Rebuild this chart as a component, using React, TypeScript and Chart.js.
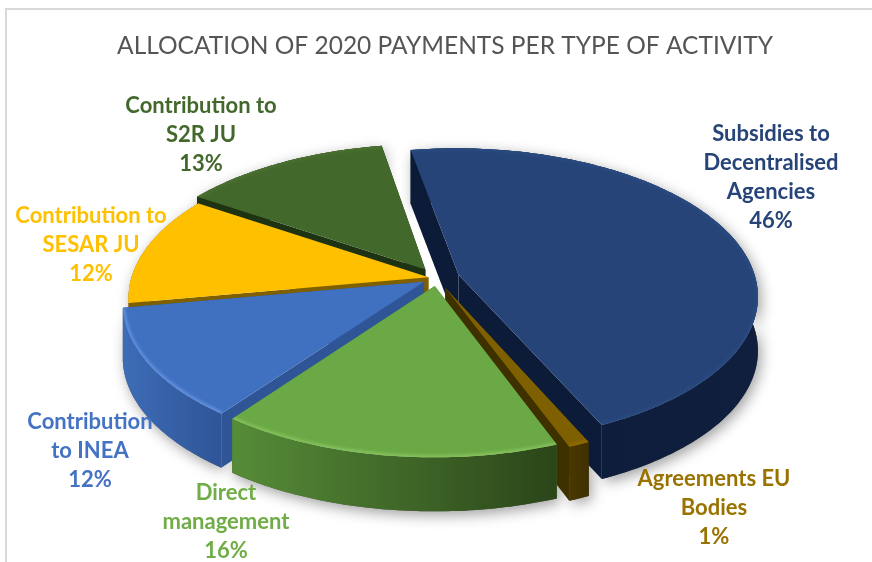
import React, { useEffect, useRef } from "react";
import { Chart, registerables } from "chart.js";

Chart.register(...registerables);

const titleText = "ALLOCATION OF 2020 PAYMENTS PER TYPE OF ACTIVITY";
const categories = [
  ["Subsidies to", "Decentralised", "Agencies"],
  ["Agreements EU", "Bodies"],
  ["Direct", "management"],
  ["Contribution", "to INEA"],
  ["Contribution to", "SESAR JU"],
  ["Contribution to", "S2R JU"],
];
const shares = [46, 1, 16, 12, 12, 13];
const explode = [18, 17, 13, 12, 7, 17];
const faceColors = ["#264478", "#7f6000", "#6aa945", "#4070c0", "#ffc000", "#43682b"];
const textColors = ["#264478", "#997300", "#70ad47", "#4472c4", "#ffc000", "#43682b"];
const wallLeft = ["#0c1b38", "#4a3800", "#568c38", "#3d6cb6", "#7f6000", "#1e3312"];
const wallRight = ["#101f3e", "#3f3000", "#2b4519", "#2f5597", "#7f6000", "#1e3312"];
const cutColors = ["#0c1b38", "#3f3000", "#4c7f32", "#2f5597", "#7f6000", "#1e3312"];
const rimColors = ["#294a80", "#8f6c00", "#84c05c", "#5f8fdc", "#ffc000", "#4a7030"];
const drawOrder = [5, 4, 3, 0, 1, 2];

const labelAnchors = [
  [771, 134], [714, 479], [226, 493], [90, 422], [91, 216], [201, 106],
];
const lineGap = 29;
const labelFont = "bold 22px Lato";

const view = { cx: 437, cy: 278, sx: 297, sy: 145, tilt: 0.14, depth: 54 };

function project(u: number, v: number, z: number) {
  const w = 1 - view.tilt * v;
  return [view.cx + (view.sx * u) / w, view.cy + (view.sy * v) / w + view.depth * z];
}

function pieProjection(chart: any) {
  const ctx = chart.ctx as CanvasRenderingContext2D;
  const arcs = chart.getDatasetMeta(0).data;

  const geometry = arcs.map((arc: any) => {
    const R = arc.outerRadius;
    const off = (arc.options.offset || 0) / R;
    const mid = (arc.startAngle + arc.endAngle) / 2;
    const ou = Math.cos(mid) * off;
    const ov = Math.sin(mid) * off;
    const rim: [number, number][] = [];
    const steps = Math.max(2, Math.ceil(((arc.endAngle - arc.startAngle) * 180) / Math.PI));
    for (let i = 0; i <= steps; i++) {
      const a = arc.startAngle + ((arc.endAngle - arc.startAngle) * i) / steps;
      rim.push([ou + Math.cos(a), ov + Math.sin(a)]);
    }
    return { ou, ov, rim };
  });

  const path = (pts: number[][]) => {
    ctx.beginPath();
    pts.forEach((p, i) => (i ? ctx.lineTo(p[0], p[1]) : ctx.moveTo(p[0], p[1])));
    ctx.closePath();
  };

  const parts = (g: any) => {
    const topRim = g.rim.map((p: number[]) => project(p[0], p[1], 0));
    const lowRim = g.rim.map((p: number[]) => project(p[0], p[1], 1));
    const a0 = project(g.ou, g.ov, 0);
    const a1 = project(g.ou, g.ov, 1);
    const wall = [...topRim, ...lowRim.slice().reverse()];
    const face = [a0, ...topRim];
    const cutA = [a0, topRim[0], lowRim[0], a1];
    const last = topRim.length - 1;
    const cutB = [a0, topRim[last], lowRim[last], a1];
    return { topRim, lowRim, wall, face, cutA, cutB };
  };

  // soft shadow on the page below the pie
  ctx.save();
  ctx.shadowColor = "rgba(0,0,0,0.38)";
  ctx.shadowBlur = 14;
  ctx.shadowOffsetX = 3;
  ctx.shadowOffsetY = 4;
  ctx.fillStyle = "#555";
  geometry.forEach((g: any) => {
    path(parts(g).wall);
    ctx.fill();
  });
  ctx.restore();
  ctx.save();
  ctx.fillStyle = "#fff";
  geometry.forEach((g: any) => {
    const p = parts(g);
    path(p.face);
    ctx.fill();
  });
  ctx.restore();

  drawOrder.forEach((i) => {
    const g = geometry[i];
    const p = parts(g);
    ctx.fillStyle = cutColors[i];
    path(p.cutA);
    ctx.fill();
    path(p.cutB);
    ctx.fill();

    const xs = p.wall.map((q: number[]) => q[0]);
    const grad = ctx.createLinearGradient(Math.min(...xs), 0, Math.max(...xs), 0);
    grad.addColorStop(0, wallLeft[i]);
    grad.addColorStop(1, wallRight[i]);
    ctx.fillStyle = grad;
    path(p.wall);
    ctx.fill();

    ctx.fillStyle = arcs[i].options.backgroundColor;
    path(p.face);
    ctx.fill();

    ctx.save();
    path(p.face);
    ctx.clip();
    ctx.filter = "blur(1.5px)";
    ctx.strokeStyle = rimColors[i];
    ctx.lineWidth = 5;
    ctx.beginPath();
    p.topRim.forEach((q: number[], k: number) => (k ? ctx.lineTo(q[0], q[1]) : ctx.moveTo(q[0], q[1])));
    ctx.stroke();
    ctx.restore();
  });
}

const pie3d = {
  id: "pie3d",
  beforeDatasetsDraw(chart: any) {
    pieProjection(chart);
    return false;
  },
  afterDraw(chart: any) {
    const ctx = chart.ctx as CanvasRenderingContext2D;
    ctx.save();
    ctx.font = labelFont;
    ctx.textAlign = "center";
    ctx.textBaseline = "middle";
    categories.forEach((lines, i) => {
      ctx.fillStyle = textColors[i];
      const [x, y] = labelAnchors[i];
      [...lines, `${shares[i]}%`].forEach((line, k) => ctx.fillText(line, x, y + k * lineGap));
    });
    ctx.restore();
  },
};

export default function App() {
  const ref = useRef<HTMLCanvasElement>(null);
  useEffect(() => {
    const chart = new Chart(ref.current!, {
      type: "pie",
      data: {
        labels: categories,
        datasets: [
          { data: shares, backgroundColor: faceColors, offset: explode, borderWidth: 0 },
        ],
      },
      options: {
        responsive: false,
        animation: false,
        rotation: -10,
        layout: { padding: { left: 18, top: 0 } },
        events: [],
        plugins: {
          legend: { display: false },
          tooltip: { enabled: false },
          title: {
            display: true,
            text: titleText,
            color: "#555555",
            font: { family: "Lato", size: 24.5, weight: "400" },
            padding: { top: 31, bottom: 10 },
          },
        },
      },
      plugins: [pie3d],
    } as any);
    return () => chart.destroy();
  }, []);
  return (
    <div style={{ position: "absolute", left: 0, top: 0, width: 872, height: 562, background: "#fff", overflow: "hidden" }}>
      <div style={{ position: "absolute", left: 5, top: 8, right: 0, bottom: 0, borderLeft: "2px solid #d9d9d9", borderTop: "2px solid #d9d9d9" }} />
      <canvas ref={ref} width={872} height={562} style={{ position: "absolute", left: 0, top: 0, display: "block" }} />
    </div>
  );
}
